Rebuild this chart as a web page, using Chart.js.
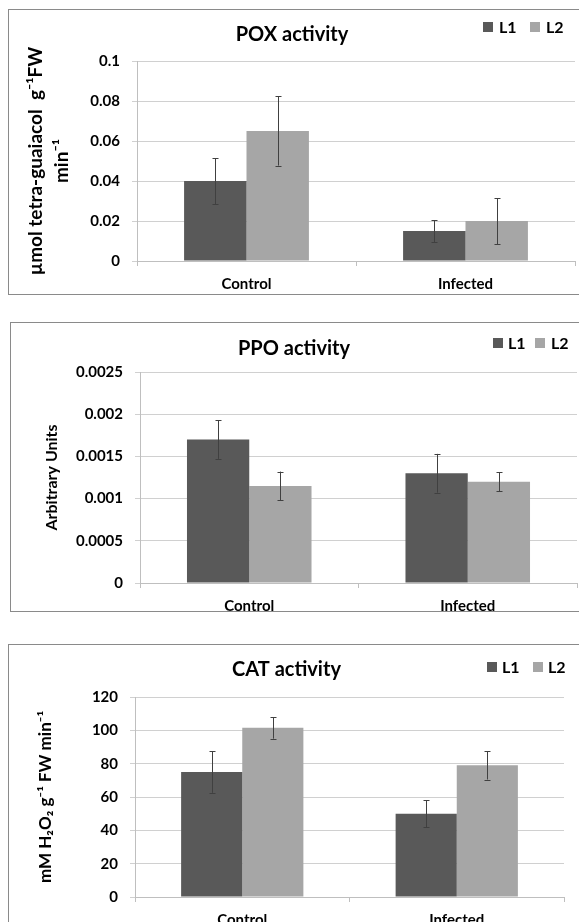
<!DOCTYPE html>
<html>
<head>
<meta charset="utf-8">
<script src="https://cdn.jsdelivr.net/npm/chart.js@4.4.0/dist/chart.umd.min.js"></script>
<style>
  html, body { margin: 0; background: #fff; width: 579px; height: 922px; overflow: hidden; }
  body { position: relative; font-family: Lato, "Noto Sans", sans-serif; }
  .panel { position: absolute; border: 1px solid #8a8a8a; background: #fff; }
  .panel canvas { position: absolute; left: 0; top: 0; }
  .sw { position: absolute; width: 10px; height: 10px; }
  .lg { position: absolute; font: bold 16px Lato, sans-serif; line-height: 16px; color: #000; }
</style>
</head>
<body>

<div class="panel" id="p1" style="left:8px; top:9px; width:573px; height:284px;"><canvas id="poxChart"></canvas></div>
<div class="panel" id="p2" style="left:10px; top:322px; width:571px; height:288px;"><canvas id="ppoChart"></canvas></div>
<div class="panel" id="p3" style="left:8px; top:644px; width:573px; height:290px;"><canvas id="catChart"></canvas></div>

<div class="sw" style="left:483px; top:22px; background:#595959"></div><div class="lg" style="left:499px; top:19px">L1</div>
<div class="sw" style="left:530px; top:22px; background:#a6a6a6"></div><div class="lg" style="left:546px; top:19px">L2</div>

<div class="sw" style="left:493px; top:338px; background:#595959"></div><div class="lg" style="left:508px; top:335px">L1</div>
<div class="sw" style="left:535px; top:338px; background:#a6a6a6"></div><div class="lg" style="left:551px; top:335px">L2</div>

<div class="sw" style="left:487px; top:662px; background:#595959"></div><div class="lg" style="left:502px; top:659px">L1</div>
<div class="sw" style="left:533px; top:662px; background:#a6a6a6"></div><div class="lg" style="left:548px; top:659px">L2</div>

<script>
// categories and series
const groups = ['Control', 'Infected'];
const seriesNames = ['L1', 'L2'];

// POX activity
const poxL1 = [0.040, 0.015];
const poxL2 = [0.065, 0.020];
const poxL1Err = [0.0115, 0.0055];
const poxL2Err = [0.0173, 0.0115];
const poxTickValues = [0, 0.02, 0.04, 0.06, 0.08, 0.1];
const poxTickLabels = ['0', '0.02', '0.04', '0.06', '0.08', '0.1'];

// PPO activity
const ppoL1 = [0.0017, 0.0013];
const ppoL2 = [0.00115, 0.0012];
const ppoL1Err = [0.00023, 0.00023];
const ppoL2Err = [0.00017, 0.00011];
const ppoTickValues = [0, 0.0005, 0.001, 0.0015, 0.002, 0.0025];
const ppoTickLabels = ['0', '0.0005', '0.001', '0.0015', '0.002', '0.0025'];

// CAT activity
const catL1 = [75, 50];
const catL2 = [101.5, 79];
const catL1Err = [12.5, 8];
const catL2Err = [6.5, 8.5];
const catTickValues = [0, 20, 40, 60, 80, 100, 120];
const catTickLabels = ['0', '20', '40', '60', '80', '100', '120'];

const colors = ['#595959', '#a6a6a6'];
const FONT = 'Lato, "Noto Sans", sans-serif';

// draws the error bars from each dataset's errors array
const errorBars = {
  id: 'errorBars',
  afterDatasetsDraw(chart) {
    const ctx = chart.ctx;
    const y = chart.scales.y;
    ctx.save();
    ctx.strokeStyle = '#404040';
    ctx.lineWidth = 1;
    chart.data.datasets.forEach((ds, i) => {
      const meta = chart.getDatasetMeta(i);
      meta.data.forEach((bar, j) => {
        const v = ds.data[j], e = ds.errors[j];
        const top = y.getPixelForValue(v + e);
        const bot = y.getPixelForValue(v - e);
        const x = Math.round(bar.x) + 0.5;
        ctx.beginPath();
        ctx.moveTo(x, top); ctx.lineTo(x, bot);
        ctx.moveTo(x - 3, Math.round(top) + 0.5); ctx.lineTo(x + 3, Math.round(top) + 0.5);
        ctx.moveTo(x - 3, Math.round(bot) + 0.5); ctx.lineTo(x + 3, Math.round(bot) + 0.5);
        ctx.stroke();
      });
    });
    ctx.restore();
  }
};

function makeChart(id, w, h, opt) {
  const canvas = document.getElementById(id);
  canvas.width = w; canvas.height = h;
  canvas.style.width = w + 'px'; canvas.style.height = h + 'px';
  return new Chart(canvas.getContext('2d'), {
    type: 'bar',
    data: {
      labels: groups,
      datasets: [
        { label: seriesNames[0], data: opt.l1, errors: opt.l1Err, backgroundColor: colors[0] },
        { label: seriesNames[1], data: opt.l2, errors: opt.l2Err, backgroundColor: colors[1] }
      ]
    },
    options: {
      responsive: false,
      animation: false,
      devicePixelRatio: 1,
      barPercentage: 1,
      categoryPercentage: 0.57,
      layout: { padding: { left: 0, right: opt.padRight, top: 0, bottom: 0 } },
      plugins: {
        legend: { display: false },
        tooltip: { enabled: false },
        title: {
          display: true,
          text: opt.title,
          color: '#000',
          font: { family: FONT, size: 20, weight: 'bold', lineHeight: 1.2 },
          padding: { top: opt.titleTop, bottom: opt.titleBottom }
        }
      },
      scales: {
        x: {
          afterFit: s => { s.height = opt.xHeight; },
          grid: { drawOnChartArea: false, drawTicks: true, tickLength: 5, color: '#bfbfbf', offset: true },
          border: { color: '#bfbfbf' },
          ticks: { color: '#000', padding: 9, font: { family: FONT, size: 15, weight: 'bold' } }
        },
        y: {
          min: 0,
          max: opt.tickValues[opt.tickValues.length - 1],
          afterFit: s => { s.width = opt.yWidth; },
          afterBuildTicks: s => { s.ticks = opt.tickValues.map(v => ({ value: v })); },
          grid: { color: '#d0d0d0', drawTicks: true, tickLength: 5 },
          border: { color: '#bfbfbf' },
          ticks: {
            color: '#000', padding: 12,
            font: { family: FONT, size: 15, weight: 'bold' },
            callback: (v, i) => opt.tickLabels[i]
          },
          title: {
            display: true,
            text: opt.yTitle,
            color: '#000',
            font: { family: FONT, size: opt.yTitleSize, weight: 'bold', lineHeight: opt.yTitleLH },
            padding: { top: opt.yTitlePad, bottom: 0 }
          }
        }
      }
    },
    plugins: [errorBars]
  });
}

makeChart('poxChart', 572, 284, {
  l1: poxL1, l2: poxL2, l1Err: poxL1Err, l2Err: poxL2Err,
  tickValues: poxTickValues, tickLabels: poxTickLabels,
  title: 'POX activity', titleTop: 13, titleBottom: 14,
  yTitle: ['\u00b5mol tetra-guaiacol  g\u207b\u00b9FW', 'min\u207b\u00b9'],
  yTitleSize: 19, yTitleLH: 1.37, yTitlePad: 14,
  yWidth: 128, xHeight: 33, padRight: 6
});

makeChart('ppoChart', 570, 288, {
  l1: ppoL1, l2: ppoL2, l1Err: ppoL1Err, l2Err: ppoL2Err,
  tickValues: ppoTickValues, tickLabels: ppoTickLabels,
  title: 'PPO activity', titleTop: 14, titleBottom: 11,
  yTitle: 'Arbitrary Units',
  yTitleSize: 16, yTitleLH: 1.2, yTitlePad: 31,
  yWidth: 129, xHeight: 28, padRight: 4
});

makeChart('catChart', 572, 290, {
  l1: catL1, l2: catL2, l1Err: catL1Err, l2Err: catL2Err,
  tickValues: catTickValues, tickLabels: catTickLabels,
  title: 'CAT activity', titleTop: 13, titleBottom: 15,
  yTitle: 'mM H\u2082O\u2082 g\u207b\u00b9 FW min\u207b\u00b9',
  yTitleSize: 17, yTitleLH: 1.2, yTitlePad: 26,
  yWidth: 126, xHeight: 38, padRight: 17
});
</script>
</body>
</html>
